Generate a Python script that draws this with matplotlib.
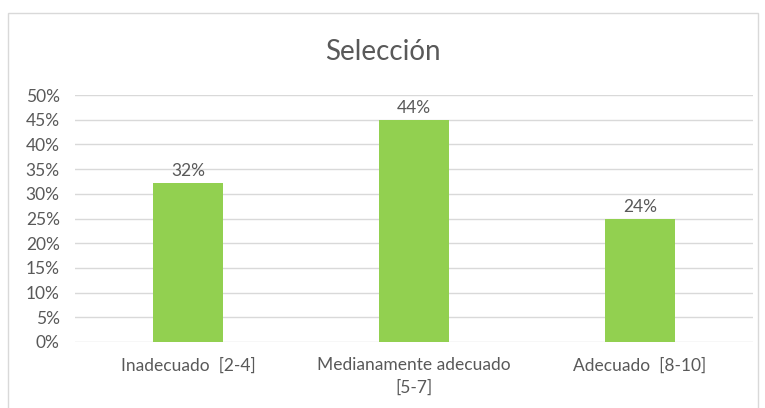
import matplotlib.pyplot as plt
from matplotlib.patches import Rectangle

categories = ["Inadecuado  [2-4]", "Medianamente adecuado\n[5-7]", "Adecuado  [8-10]"]
values = [0.322, 0.449, 0.249]
labels = ["32%", "44%", "24%"]
yticks = [0, 0.05, 0.10, 0.15, 0.20, 0.25, 0.30, 0.35, 0.40, 0.45, 0.50]

plt.rcParams['font.family'] = ['Lato', 'DejaVu Sans']
txt = '#595959'

fig = plt.figure(figsize=(7.65, 4.08), dpi=100)
fig.patches.append(Rectangle((8/765, -0.05), 750/765, 1 - 13/408 + 0.05,
                             transform=fig.transFigure, fill=False,
                             edgecolor='#d9d9d9', linewidth=1))
ax = fig.add_axes([75/765, 1 - 342/408, 678/765, 247/408])

x = range(len(categories))
ax.bar(x, values, width=0.31, color='#92d050', zorder=3)
for xi, v, lab in zip(x, values, labels):
    ax.text(xi, v + 0.008, lab, ha='center', va='bottom', fontsize=12.5, color=txt)

ax.set_xlim(-0.5, 2.5)
ax.set_ylim(0, 0.5)
ax.set_yticks(yticks)
ax.set_yticklabels([f"{int(round(t*100))}%" for t in yticks])
ax.set_xticks(list(x))
ax.set_xticklabels(categories, linespacing=1.5)
ax.tick_params(axis='both', length=0, labelsize=12.5, labelcolor=txt)
ax.tick_params(axis='x', pad=11)
ax.tick_params(axis='y', pad=11)
ax.grid(axis='y', color='#d9d9d9', linewidth=1, zorder=0)
for s in ax.spines.values():
    s.set_visible(False)

fig.text(0.5, 1 - 52/408, "Selección", ha='center', va='center', fontsize=20, color=txt)

fig.savefig('out.png', dpi=100)
